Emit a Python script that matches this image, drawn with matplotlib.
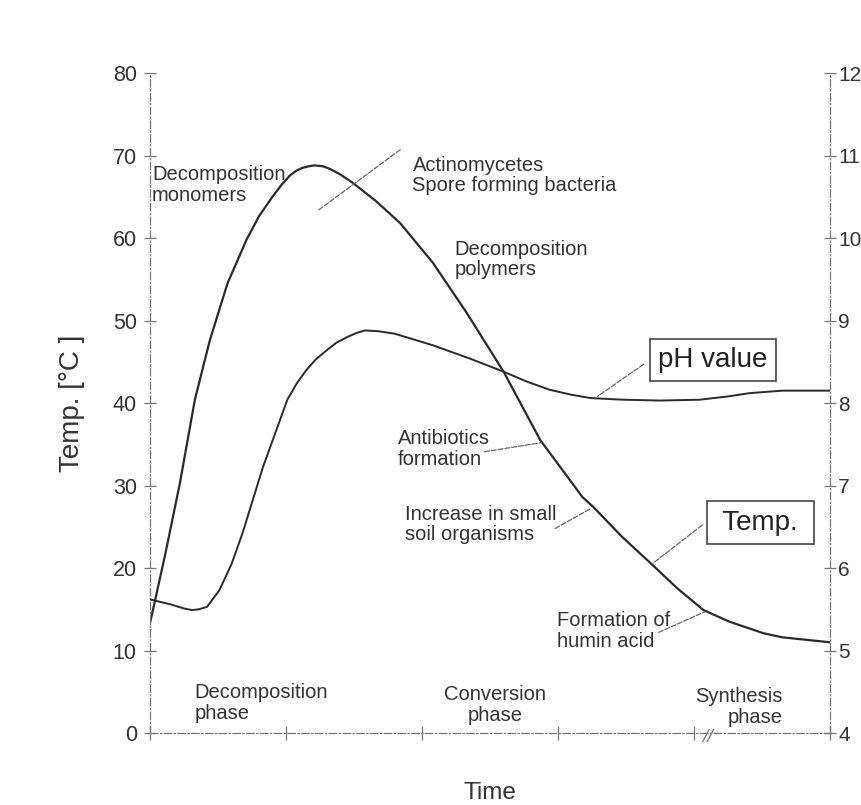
import matplotlib
matplotlib.use("Agg")
import matplotlib.pyplot as plt

plt.rcParams['font.family'] = ['Liberation Sans', 'DejaVu Sans']

# ---- data (time in arbitrary units, 0..5) ----
temp_time = [0.0, 0.11, 0.22, 0.33, 0.44, 0.57, 0.71, 0.80, 0.90, 0.97, 1.03, 1.08,
             1.12, 1.17, 1.21, 1.27, 1.32, 1.40, 1.49, 1.66, 1.84, 2.08, 2.33,
             2.60, 2.87, 3.18, 3.26, 3.47, 3.68, 3.88, 4.07, 4.26, 4.51, 4.65, 5.0]
temp_vals = [13.3, 21.5, 30.3, 40.4, 47.6, 54.5, 59.8, 62.6, 65.0, 66.5, 67.6, 68.2,
             68.5, 68.7, 68.8, 68.7, 68.4, 67.7, 66.7, 64.5, 61.8, 57.0, 50.9,
             43.8, 35.5, 28.6, 27.4, 23.8, 20.6, 17.5, 14.9, 13.5, 12.1, 11.6, 11.0]

ph_time = [0.0, 0.15, 0.25, 0.31, 0.36, 0.42, 0.51, 0.60, 0.68, 0.83, 1.01, 1.08,
           1.15, 1.22, 1.30, 1.37, 1.45, 1.52, 1.58, 1.68, 1.80, 2.08, 2.35, 2.60,
           2.77, 2.94, 3.10, 3.24, 3.48, 3.75, 4.04, 4.25, 4.41, 4.65, 5.0]
ph_vals = [5.62, 5.56, 5.51, 5.49, 5.50, 5.53, 5.73, 6.05, 6.42, 7.22, 8.04, 8.24,
           8.40, 8.53, 8.64, 8.73, 8.80, 8.85, 8.88, 8.87, 8.84, 8.70, 8.54, 8.38,
           8.26, 8.16, 8.10, 8.06, 8.04, 8.03, 8.04, 8.08, 8.12, 8.15, 8.15]

temp_ticks = [0, 10, 20, 30, 40, 50, 60, 70, 80]
ph_ticks = [4, 5, 6, 7, 8, 9, 10, 11, 12]
time_ticks = [0, 1, 2, 3, 4, 5]

# annotations: text, (x, temp), ha
labels = [
    ("Decomposition\nmonomers", (0.015, 68.8), 'left'),
    ("Actinomycetes\nSpore forming bacteria", (1.93, 70.0), 'left'),
    ("Decomposition\npolymers", (2.24, 59.8), 'left'),
    ("Antibiotics\nformation", (1.82, 36.8), 'left'),
    ("Increase in small\nsoil organisms", (1.875, 27.7), 'left'),
    ("Formation of\nhumin acid", (2.99, 14.8), 'left'),
    ("Decomposition\nphase", (0.33, 6.1), 'left'),
    ("Conversion\nphase", (2.54, 5.8), 'center'),
    ("Synthesis\nphase", (4.65, 5.6), 'right'),
]
leaders = [
    ((1.84, 70.7), (1.24, 63.4)),
    ((3.63, 44.7), (3.29, 40.8)),
    ((2.46, 34.1), (2.88, 35.2)),
    ((2.98, 24.8), (3.24, 27.2)),
    ((4.06, 25.2), (3.70, 20.6)),
    ((3.74, 12.2), (4.08, 14.7)),
]
boxes = [("pH value", (4.14, 45.2)), (" Temp. ", (4.49, 25.5))]

ink = '#2a2a2a'
txt = '#333333'
axc = '#777777'

fig = plt.figure(figsize=(8.61, 8.05), dpi=100)
ax = fig.add_axes([0.1742, 0.0894, 0.964 - 0.1742, 0.9093 - 0.0894])
ax2 = ax.twinx()

ax.plot(temp_time, temp_vals, color=ink, lw=1.6, solid_joinstyle='round')
ax2.plot(ph_time, ph_vals, color=ink, lw=1.4, solid_joinstyle='round')

ax.set_xlim(0, 5)
ax.set_ylim(0, 80)
ax2.set_ylim(4, 12)
ax.set_xticks(time_ticks)
ax.set_xticklabels([])
ax.set_yticks(temp_ticks)
ax2.set_yticks(ph_ticks)

for a in (ax, ax2):
    a.spines['top'].set_visible(False)
    for s in ('left', 'right', 'bottom'):
        a.spines[s].set_color(axc)
        a.spines[s].set_linewidth(0.9)
        a.spines[s].set_linestyle((0, (6, 2, 1, 2)))
    a.tick_params(colors=axc, labelcolor=txt, labelsize=15.5, direction='inout',
                  length=9, width=0.9)
ax2.spines['left'].set_visible(False)
ax2.spines['bottom'].set_visible(False)
ax.spines['right'].set_visible(False)
ax.tick_params(axis='x', length=10)
ax.tick_params(axis='y', pad=5)
ax2.tick_params(axis='y', pad=1.5, labelsize=15)

ax.set_ylabel("Temp. [°C ]", fontsize=20, color=txt, labelpad=20)
ax.set_xlabel("Time", fontsize=17.5, color=txt, labelpad=27)

for text, (x, y), ha in labels:
    ax.text(x, y, text, ha=ha, va='top', fontsize=14.5, color=txt,
            multialignment=ha, linespacing=1.12)

for (x1, y1), (x2, y2) in leaders:
    ax.annotate("", xy=(x2, y2), xytext=(x1, y1),
                arrowprops=dict(arrowstyle='-', color='#666666', lw=0.9,
                                linestyle=(0, (4, 1.5)), shrinkA=0, shrinkB=0))

for text, (x, y) in boxes:
    ax.text(x, y, text, ha='center', va='center', fontsize=20, color='#222222',
            bbox=dict(boxstyle='square,pad=0.3', fc='white', ec='#444444', lw=1.2))

ax.text(4.10, -0.6, "//", ha='center', va='center', fontsize=14, color=axc,
        style='italic', clip_on=False)

fig.savefig("out.png", dpi=100, facecolor='white')
